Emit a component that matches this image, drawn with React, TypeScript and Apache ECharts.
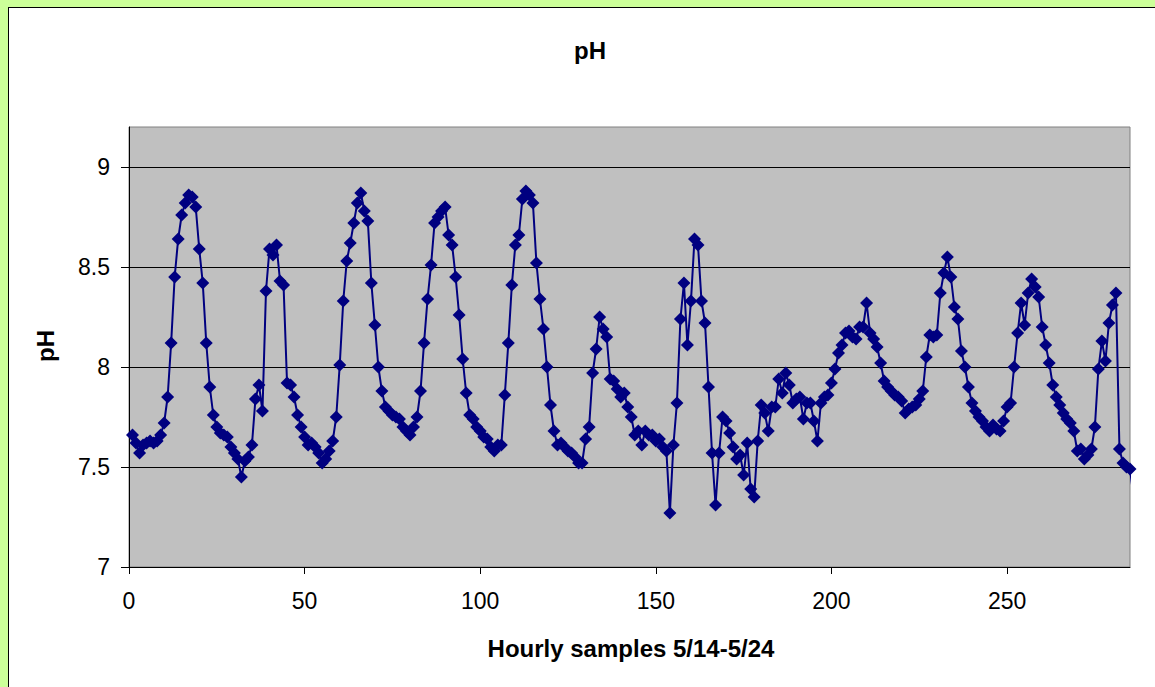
import React, { useEffect, useRef } from "react";
import * as echarts from "echarts";

// pH readings, hourly samples starting at sample 1
const phValues: number[] = [
  7.66, 7.62, 7.57, 7.61, 7.62, 7.63, 7.62, 7.63, 7.66, 7.72,
  7.85, 8.12, 8.45, 8.64, 8.76, 8.82, 8.86, 8.85, 8.80, 8.59,
  8.42, 8.12, 7.90, 7.76, 7.70, 7.67, 7.66, 7.65, 7.60, 7.57,
  7.54, 7.45, 7.53, 7.55, 7.61, 7.84, 7.91, 7.78, 8.38, 8.59,
  8.56, 8.61, 8.43, 8.41, 7.92, 7.91, 7.85, 7.76, 7.70, 7.65,
  7.61, 7.62, 7.60, 7.57, 7.52, 7.54, 7.58, 7.63, 7.75, 8.01,
  8.33, 8.53, 8.62, 8.72, 8.82, 8.87, 8.78, 8.73, 8.42, 8.21,
  8.00, 7.88, 7.80, 7.78, 7.76, 7.75, 7.74, 7.70, 7.68, 7.66,
  7.70, 7.75, 7.88, 8.12, 8.34, 8.51, 8.72, 8.75, 8.78, 8.80,
  8.66, 8.61, 8.45, 8.26, 8.04, 7.87, 7.76, 7.74, 7.70, 7.68,
  7.65, 7.64, 7.60, 7.58, 7.61, 7.61, 7.86, 8.12, 8.41, 8.61,
  8.66, 8.84, 8.88, 8.86, 8.82, 8.52, 8.34, 8.19, 8.00, 7.81,
  7.68, 7.61, 7.62, 7.60, 7.58, 7.57, 7.55, 7.52, 7.52, 7.64,
  7.70, 7.97, 8.09, 8.25, 8.19, 8.15, 7.94, 7.93, 7.89, 7.85,
  7.87, 7.80, 7.75, 7.66, 7.68, 7.61, 7.68, 7.66, 7.66, 7.63,
  7.64, 7.60, 7.58, 7.27, 7.61, 7.82, 8.24, 8.42, 8.11, 8.33,
  8.64, 8.61, 8.33, 8.22, 7.90, 7.57, 7.31, 7.57, 7.75, 7.73,
  7.67, 7.60, 7.54, 7.56, 7.46, 7.62, 7.39, 7.35, 7.63, 7.81,
  7.77, 7.68, 7.80, 7.80, 7.94, 7.87, 7.97, 7.91, 7.82, 7.84,
  7.85, 7.74, 7.82, 7.82, 7.73, 7.63, 7.82, 7.85, 7.86, 7.92,
  7.99, 8.07, 8.11, 8.17, 8.18, 8.15, 8.14, 8.20, 8.20, 8.32,
  8.17, 8.14, 8.10, 8.02, 7.93, 7.90, 7.88, 7.86, 7.85, 7.83,
  7.77, 7.79, 7.80, 7.81, 7.84, 7.88, 8.05, 8.16, 8.15, 8.16,
  8.37, 8.47, 8.55, 8.45, 8.30, 8.24, 8.08, 8.00, 7.90, 7.82,
  7.78, 7.75, 7.73, 7.70, 7.68, 7.71, 7.69, 7.68, 7.73, 7.80,
  7.82, 8.00, 8.17, 8.32, 8.21, 8.37, 8.44, 8.40, 8.35, 8.20,
  8.11, 8.02, 7.91, 7.85, 7.81, 7.77, 7.74, 7.72, 7.68, 7.58,
  7.59, 7.54, 7.56, 7.59, 7.70, 7.99, 8.13, 8.03, 8.22, 8.31,
  8.37, 7.59, 7.52, 7.50, 7.49, 7.35,
];

const xTicks: number[] = [0, 50, 100, 150, 200, 250];
const yTicks: number[] = [7, 7.5, 8, 8.5, 9];
const X_MAX = 285;
const Y_MIN = 7;
const Y_MAX = 9.2;

const chartTitle = "pH";
const xTitle = "Hourly samples 5/14-5/24";
const yTitle = "pH";

const FONT = "'Liberation Sans', Arial, sans-serif";

export default function App() {
  const ref = useRef<HTMLDivElement>(null);

  useEffect(() => {
    if (!ref.current) return;
    const chart = echarts.init(ref.current, undefined, { renderer: "svg" });

    const seriesData = phValues.map((v, i) => {
      const x = i + 1;
      if (x > X_MAX) {
        return { value: [x, v], symbol: "none" };
      }
      return { value: [x, v] };
    });

    chart.setOption({
      animation: false,
      textStyle: { fontFamily: FONT },
      grid: {
        left: 129,
        top: 127,
        width: 1001,
        height: 440,
        show: true,
        backgroundColor: "#C0C0C0",
        borderColor: "#808080",
        borderWidth: 1,
        containLabel: false,
      },
      xAxis: {
        type: "value",
        min: 0,
        max: X_MAX,
        interval: 50,
        axisLine: { show: true, onZero: false, lineStyle: { color: "#000", width: 1 } },
        axisTick: { show: true, length: 7, lineStyle: { color: "#000" }, customValues: xTicks },
        axisLabel: {
          color: "#000",
          fontSize: 23,
          fontFamily: FONT,
          margin: 22,
          customValues: xTicks,
        },
        splitLine: { show: false },
      },
      yAxis: {
        type: "value",
        min: Y_MIN,
        max: Y_MAX,
        interval: 0.5,
        axisLine: { show: true, onZero: false, lineStyle: { color: "#000", width: 1 } },
        axisTick: { show: true, length: 8, lineStyle: { color: "#000" }, customValues: yTicks },
        axisLabel: {
          color: "#000",
          fontSize: 23,
          fontFamily: FONT,
          margin: 19,
          customValues: yTicks,
        },
        splitLine: {
          show: true,
          showMinLine: false,
          lineStyle: { color: "#000", width: 1 },
        },
      },
      graphic: [
        {
          type: "text",
          x: 590,
          y: 50,
          style: {
            text: chartTitle,
            fontSize: 24,
            fontWeight: "bold",
            fontFamily: FONT,
            fill: "#000",
            textAlign: "center",
            textVerticalAlign: "middle",
          },
        },
        {
          type: "text",
          x: 631,
          y: 648,
          style: {
            text: xTitle,
            fontSize: 24,
            fontWeight: "bold",
            fontFamily: FONT,
            fill: "#000",
            textAlign: "center",
            textVerticalAlign: "middle",
          },
        },
        {
          type: "text",
          x: 45,
          y: 346,
          rotation: Math.PI / 2,
          style: {
            text: yTitle,
            fontSize: 24,
            fontWeight: "bold",
            fontFamily: FONT,
            fill: "#000",
            textAlign: "center",
            textVerticalAlign: "middle",
          },
        },
      ],
      series: [
        {
          type: "line",
          data: seriesData,
          clip: false,
          symbol: "diamond",
          symbolSize: 13,
          showAllSymbol: true,
          itemStyle: { color: "#000080" },
          lineStyle: { color: "#000080", width: 2 },
          emphasis: { disabled: true },
        },
      ],
    });

    return () => {
      chart.dispose();
    };
  }, []);

  return (
    <div
      style={{
        position: "fixed",
        left: 0,
        top: 0,
        width: 1155,
        height: 687,
        background: "#CCFF99",
        overflow: "hidden",
      }}
    >
      <div
        style={{
          position: "absolute",
          left: 8,
          top: 7,
          width: 1200,
          height: 720,
          background: "#FFFFFF",
          border: "1.5px solid #000",
          boxSizing: "border-box",
        }}
      />
      <div
        ref={ref}
        style={{ position: "absolute", left: 0, top: 0, width: 1155, height: 687 }}
      />
    </div>
  );
}
